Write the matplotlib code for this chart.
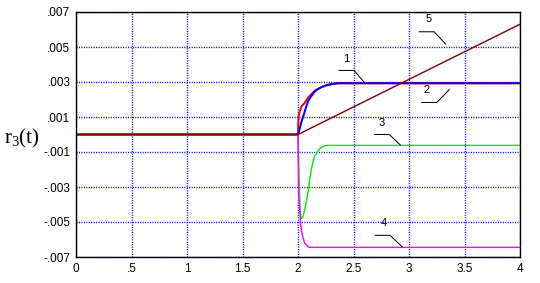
import matplotlib
matplotlib.use("Agg")
import matplotlib.pyplot as plt

# response curves r3(t)
t1 = [0, 2.0, 2.004, 2.01, 2.03, 2.06, 2.09, 2.12, 2.15, 2.18, 2.21, 2.25, 2.28, 2.32, 2.36, 4.0]
r1 = [0, 0, 0.0009, 0.0012, 0.0016, 0.0018, 0.0021, 0.0023, 0.0025, 0.0026, 0.0027,
      0.0028, 0.00285, 0.0029, 0.00293, 0.00293]

t2 = [0, 2.0, 2.01, 2.03, 2.06, 2.09, 2.12, 2.15, 2.18, 2.21, 2.25, 2.3, 2.36, 4.0]
r2 = [0, 0, 0.0002, 0.0007, 0.0013, 0.0019, 0.0022, 0.00245, 0.0026, 0.0027, 0.0028,
      0.00288, 0.00293, 0.00293]

t3 = [0, 2.0, 2.003, 2.01, 2.02, 2.03, 2.045, 2.06, 2.075, 2.09, 2.105, 2.12, 2.135,
      2.15, 2.18, 2.21, 2.24, 2.27, 4.0]
r3 = [0, 0, -0.001, -0.0026, -0.0045, -0.0048, -0.0047, -0.0043, -0.0038, -0.0033,
      -0.0026, -0.002, -0.00155, -0.00123, -0.00093, -0.00073, -0.00064, -0.00062, -0.00062]

t4 = [0, 2.0, 2.006, 2.018, 2.025, 2.036, 2.045, 2.06, 2.075, 2.09, 2.1, 4.0]
r4 = [0, 0, -0.0035, -0.0045, -0.0052, -0.00565, -0.0059, -0.0062, -0.0063, -0.0064,
      -0.00645, -0.00645]

t5 = [0, 2.0, 4.0]
r5 = [0, 0, 0.0063]

# curve numbers: text position and leader line (start, knee, end)
label_names = ["1", "2", "3", "4", "5"]
label_text = [(2.43, 0.0043), (3.16, 0.00254), (2.75, 0.00064), (2.77, -0.00507), (3.18, 0.0066)]
leader_x = [(2.37, 2.505, 2.60), (3.114, 3.249, 3.363), (2.688, 2.823, 2.925),
            (2.696, 2.829, 2.937), (3.092, 3.227, 3.331)]
leader_y = [(0.00366, 0.00366, 0.00296), (0.00183, 0.00183, 0.00256), (0.0, 0.0, -0.00062),
            (-0.00576, -0.00576, -0.00641), (0.00587, 0.00587, 0.00516)]

xticks = [0, 0.5, 1, 1.5, 2, 2.5, 3, 3.5, 4]
xtick_labels = ["0", ".5", "1", "1.5", "2", "2.5", "3", "3.5", "4"]
yticks = [-0.007, -0.005, -0.003, -0.001, 0.001, 0.003, 0.005, 0.007]
ytick_labels = ["-.007", "-.005", "-.003", "-.001", ".001", ".003", ".005", ".007"]

plt.rcParams["font.family"] = ["Liberation Sans", "DejaVu Sans"]
plt.rcParams["mathtext.fontset"] = "custom"
plt.rcParams["mathtext.rm"] = "Liberation Serif"
plt.rcParams["mathtext.it"] = "Liberation Serif:italic"

fig = plt.figure(figsize=(5.4, 2.83), dpi=100)
ax = fig.add_axes([76 / 540, 26 / 283, 444 / 540, 245 / 283])

px = 0.72
ax.plot(t1, r1, color="#ff0000", lw=2 * px, zorder=3)
ax.plot(t2, r2, color="#0000ff", lw=2 * px, zorder=4)
ax.plot(t3, r3, color="#00ee00", lw=1.4 * px, zorder=5)
ax.plot(t4, r4, color="#ff00ff", lw=1.4 * px, zorder=6)
ax.plot(t5, r5, color="#800000", lw=1.4 * px, zorder=7)

for name, (tx, ty), lx, ly in zip(label_names, label_text, leader_x, leader_y):
    ax.plot(lx, ly, color="black", lw=px, zorder=8)
    ax.text(tx, ty, name, fontsize=8, ha="center", va="center", zorder=9)

ax.set_xlim(0, 4)
ax.set_ylim(-0.007, 0.007)
ax.set_xticks(xticks)
ax.set_xticklabels(xtick_labels)
ax.set_yticks(yticks)
ax.set_yticklabels(ytick_labels)
ax.tick_params(length=0, labelsize=8.5, pad=4)
ax.grid(True, color="#0000ff", lw=1.4 * px, linestyle=(0, (0.75, 1.0)))
for s in ax.spines.values():
    s.set_linewidth(1.4 * px)
    s.set_zorder(10)

fig.text(22 / 540, 1 - 138 / 283, r"r$_{\mathrm{3}}$(t)", family="Liberation Serif",
         fontsize=15, ha="center", va="center")

fig.savefig("out.png", dpi=100)
